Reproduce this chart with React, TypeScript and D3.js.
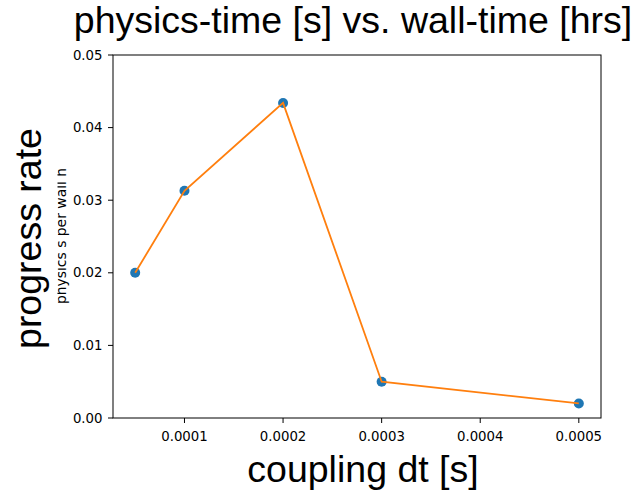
import { useEffect, useRef } from "react";
import * as d3 from "d3";

const couplingDt = [0.00005, 0.0001, 0.0002, 0.0003, 0.0005];
const progressRate = [0.02, 0.0313, 0.0434, 0.005, 0.002];
const xTicks = [0.0001, 0.0002, 0.0003, 0.0004, 0.0005];
const yTicks = [0.0, 0.01, 0.02, 0.03, 0.04, 0.05];

const W = 636;
const H = 491;
const margin = { left: 113, right: 35, top: 55, bottom: 73 };

export default function App() {
  const ref = useRef<SVGSVGElement>(null);

  useEffect(() => {
    const svg = d3.select(ref.current);
    svg.selectAll("*").remove();

    const x0 = margin.left;
    const x1 = W - margin.right;
    const y0 = H - margin.bottom;
    const y1 = margin.top;

    const span = 0.0005 - 0.00005;
    const x = d3
      .scaleLinear()
      .domain([0.00005 - span * 0.05, 0.0005 + span * 0.05])
      .range([x0, x1]);
    const y = d3.scaleLinear().domain([0, 0.05]).range([y0, y1]);

    svg
      .append("rect")
      .attr("width", W)
      .attr("height", H)
      .attr("fill", "white");

    const tickFont = "DejaVu Sans, sans-serif";

    // x ticks
    const xt = svg.append("g");
    xTicks.forEach((t) => {
      xt.append("line")
        .attr("x1", x(t))
        .attr("x2", x(t))
        .attr("y1", y0)
        .attr("y2", y0 + 5)
        .attr("stroke", "#000")
        .attr("stroke-width", 1);
      xt.append("text")
        .attr("x", x(t))
        .attr("y", y0 + 23)
        .attr("text-anchor", "middle")
        .attr("font-family", tickFont)
        .attr("font-size", 13.3)
        .text(d3.format(".4f")(t));
    });

    // y ticks
    const yt = svg.append("g");
    yTicks.forEach((t) => {
      yt.append("line")
        .attr("x1", x0 - 5)
        .attr("x2", x0)
        .attr("y1", y(t))
        .attr("y2", y(t))
        .attr("stroke", "#000")
        .attr("stroke-width", 1);
      yt.append("text")
        .attr("x", x0 - 10.5)
        .attr("y", y(t))
        .attr("dy", "0.35em")
        .attr("text-anchor", "end")
        .attr("font-family", tickFont)
        .attr("font-size", 13.3)
        .text(d3.format(".2f")(t));
    });

    // scatter
    svg
      .selectAll("circle")
      .data(couplingDt)
      .enter()
      .append("circle")
      .attr("cx", (d) => x(d))
      .attr("cy", (d, i) => y(progressRate[i]))
      .attr("r", 5)
      .attr("fill", "#1f77b4");

    // line over the dots
    const line = d3
      .line<number>()
      .x((d) => x(d))
      .y((d, i) => y(progressRate[i]));
    svg
      .append("path")
      .datum(couplingDt)
      .attr("d", line)
      .attr("fill", "none")
      .attr("stroke", "#ff7f0e")
      .attr("stroke-width", 1.8);

    // frame
    svg
      .append("rect")
      .attr("x", x0)
      .attr("y", y1)
      .attr("width", x1 - x0)
      .attr("height", y0 - y1)
      .attr("fill", "none")
      .attr("stroke", "#000")
      .attr("stroke-width", 1);

    const bigFont = "Liberation Sans, Arial, sans-serif";

    svg
      .append("text")
      .attr("x", (x0 + x1) / 2 - 4)
      .attr("y", 33)
      .attr("text-anchor", "middle")
      .attr("font-family", bigFont)
      .attr("font-size", 37.5)
      .text("physics-time [s] vs. wall-time [hrs]");

    svg
      .append("text")
      .attr("x", (x0 + x1) / 2 + 6)
      .attr("y", 482)
      .attr("text-anchor", "middle")
      .attr("font-family", bigFont)
      .attr("font-size", 37.5)
      .text("coupling dt [s]");

    svg
      .append("text")
      .attr("transform", `translate(41, ${(y0 + y1) / 2 + 2}) rotate(-90)`)
      .attr("text-anchor", "middle")
      .attr("font-family", bigFont)
      .attr("font-size", 37.5)
      .text("progress rate");

    // small secondary label, partly hidden behind the big one
    svg
      .append("clipPath")
      .attr("id", "small-label-clip")
      .append("rect")
      .attr("x", 57.5)
      .attr("y", 0)
      .attr("width", 20)
      .attr("height", H);
    svg
      .append("g")
      .attr("clip-path", "url(#small-label-clip)")
      .append("text")
      .attr("transform", `translate(66, 236) rotate(-90)`)
      .attr("text-anchor", "middle")
      .attr("font-family", tickFont)
      .attr("font-size", 13.9)
      .text("physics s per wall h");
  }, []);

  return (
    <svg
      ref={ref}
      width={W}
      height={H}
      style={{ position: "absolute", left: 0, top: 0 }}
    />
  );
}
